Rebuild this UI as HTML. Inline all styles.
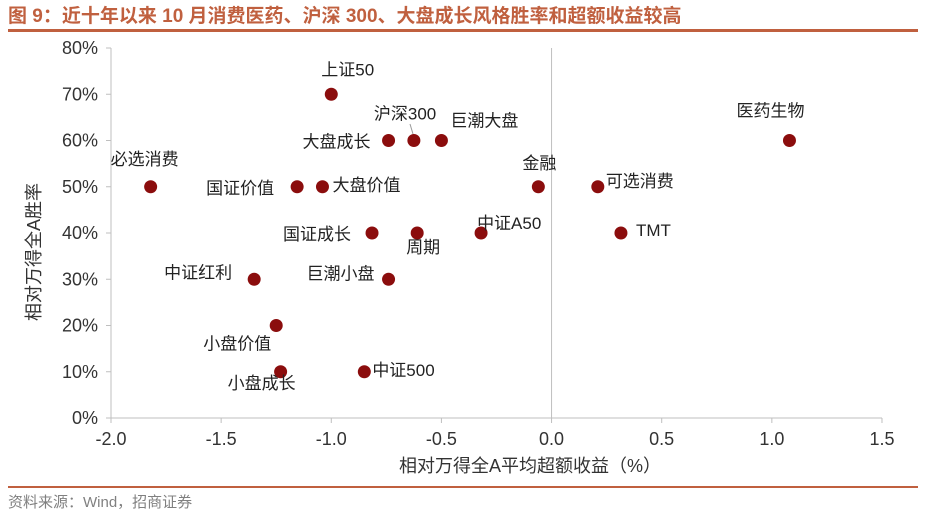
<!DOCTYPE html>
<html><head><meta charset="utf-8"><style>
body{margin:0;background:#fff;}
svg text{font-family:"Liberation Sans","Noto Sans CJK SC",sans-serif;}
</style></head><body>
<svg id="c" width="925" height="518" xmlns="http://www.w3.org/2000/svg">
<text x="8" y="22" font-size="19" font-weight="bold" fill="#c0603f">图 9：近十年以来 10 月消费医药、沪深 300、大盘成长风格胜率和超额收益较高</text>
<rect x="8" y="29" width="910" height="3" fill="#c0603f"/>
<rect x="8" y="486" width="910" height="2" fill="#c0603f"/>
<text x="8" y="507" font-size="15" fill="#808080">资料来源：Wind，招商证券</text>
<g id="axes"></g>
<line x1="410" y1="124" x2="413" y2="134" stroke="#999" stroke-width="1"/>
<g id="marks"></g>
<text transform="translate(40,252) rotate(-90)" text-anchor="middle" font-size="18" fill="#333">相对万得全A胜率</text>
<text x="530" y="472" text-anchor="middle" font-size="18" fill="#333">相对万得全A平均超额收益（%）</text>
</svg>
<script>
const names=["上证50","沪深300","巨潮大盘","大盘成长","医药生物","必选消费","国证价值","大盘价值","金融","可选消费","国证成长","周期","中证A50","TMT","中证红利","巨潮小盘","小盘价值","小盘成长","中证500"];
const excess=[-1.0,-0.625,-0.5,-0.74,1.08,-1.82,-1.155,-1.04,-0.06,0.21,-0.815,-0.61,-0.32,0.315,-1.35,-0.74,-1.25,-1.23,-0.85];
const winRate=[70,60,60,60,60,50,50,50,50,50,40,40,40,40,30,30,20,10,10];
const xTicks=[-2.0,-1.5,-1.0,-0.5,0.0,0.5,1.0,1.5];
const yTicks=[0,10,20,30,40,50,60,70,80];
// label offsets (layout only): dx, dy relative to point, anchor
const labelPos=[[-10,-20,"start"],[-40,-22,"start"],[9,-15,"start"],[-86,6,"start"],[-53,-25,"start"],[-40,-23,"start"],[-91,6,"start"],[10,3,"start"],[-16,-19,"start"],[8,-1,"start"],[-89,6,"start"],[-11,19,"start"],[-4,-5,"start"],[15,2,"start"],[-90,-2,"start"],[-82,-1,"start"],[-73,23,"start"],[-53,16,"start"],[8,3,"start"]];
const X=v=>111+(v+2)*220.28, Y=v=>418-v*4.625;
const ns="http://www.w3.org/2000/svg";
const ax=document.getElementById('axes'), mk=document.getElementById('marks');
function el(t,a,p){const e=document.createElementNS(ns,t);for(const k in a)e.setAttribute(k,a[k]);p.appendChild(e);return e;}
let l=el('line',{x1:111,y1:418,x2:882,y2:418,stroke:'#bfbfbf','stroke-width':1},ax);


l=el('line',{x1:111,y1:48,x2:111,y2:418,stroke:'#bfbfbf','stroke-width':1},ax);


l=el('line',{x1:X(0),y1:48,x2:X(0),y2:418,stroke:'#bfbfbf','stroke-width':1},ax);


xTicks.forEach(v=>{const tk=el('line',{x1:X(v),y1:418,x2:X(v),y2:423,stroke:'#bfbfbf'},ax);


const t=el('text',{x:X(v),y:445,'text-anchor':'middle','font-size':18,fill:'#333'},ax);t.textContent=v.toFixed(1);

});
yTicks.forEach(v=>{const tk=el('line',{x1:106,y1:Y(v),x2:111,y2:Y(v),stroke:'#bfbfbf'},ax);


const t=el('text',{x:98,y:Y(v)+6,'text-anchor':'end','font-size':18,fill:'#333'},ax);t.textContent=v+'%';

});
names.forEach((n,i)=>{const cx=X(excess[i]),cy=Y(winRate[i]);
const c=el('circle',{cx:cx,cy:cy,r:6.5,fill:'#8b0d0d'},mk);


const p=labelPos[i];
const t=el('text',{x:cx+p[0],y:cy+p[1]+1,'text-anchor':p[2],'font-size':17,fill:'#222'},mk);t.textContent=n;

});
</script>
</body></html>
